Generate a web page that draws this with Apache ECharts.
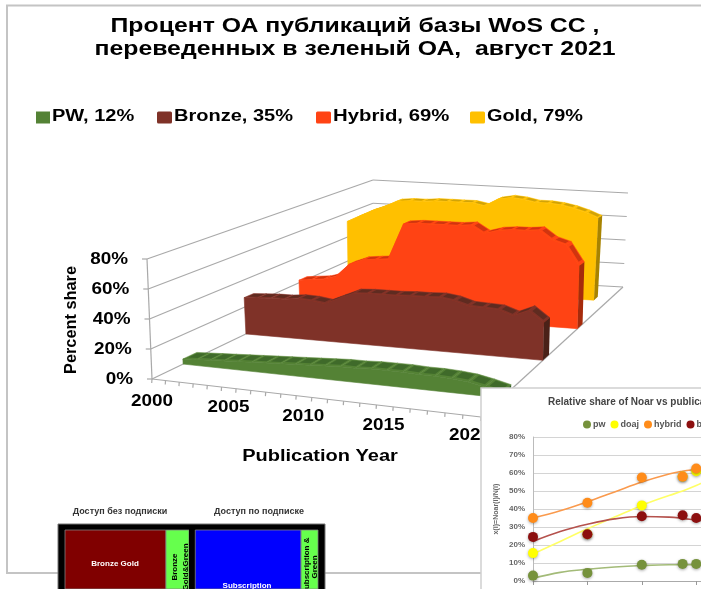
<!DOCTYPE html>
<html><head><meta charset="utf-8">
<style>html,body{margin:0;padding:0;background:#fff;overflow:hidden}#c{width:701px;height:589px}</style>
<script src="https://cdn.jsdelivr.net/npm/echarts@6/dist/echarts.min.js"></script></head>
<body><div id="c"></div>
<script>
// ---------- data: main 3D area chart ----------
const years=[2000,2001,2002,2003,2004,2005,2006,2007,2008,2009,2010,2011,2012,2013,2014,2015,2016,2017,2018,2019,2020,2021];
const pw    =[3.5,4,4.5,5,5.5,6,6.5,7,7.5,8,8.5,9,9,9.5,9.5,9.5,9,9,8.5,7.5,5.5,3];
const bronze=[27,27.5,28,28,29,28.5,27,31.5,36,36.5,36.5,36.5,37,37,37.5,36,33,32.5,32,28.5,33,25.5];
const hybrid=[22,23,24,27,37,41,42,43,71,72,72,72,72,73,67,70,71,71,72,65,62,47];
const gold  =[53,58,63,67,72,73,73,74,74,74,74,72,78,80,79,77,77,76,74,71,67];
const seriesNames=['PW, 12%','Bronze, 35%','Hybrid, 69%','Gold, 79%'];
const seriesColors=['#548235','#7f3228','#ff4314','#ffc000'];
const titleLines=['Процент ОА публикаций базы WoS CC ,','переведенных в зеленый ОА,  август 2021'];
const percentTicks=[0,20,40,60,80];
const percentLabels=['0%','20%','40%','60%','80%'];
const yearTicks=[2000,2005,2010,2015,2020];
// ---------- data: inset line chart ----------
const insetX=[0,4,8,11,12];
const insetPw=[3,4.5,9,9.5,9.5];
const insetDoaj=[15.5,26,42,58,61];
const insetHybrid=[35,43.5,57.5,58,62.5];
const insetBronze=[24.5,26,36,36.5,35];
const trendX=[0,2,4,6,8,10,11,12,13];
const trendPw=[1.5,4.8,6.5,7.8,8.6,9,9,9,9];
const trendDoaj=[15,22,29,35.5,42,47.5,50,53,56.5];
const trendHybrid=[35,39,44,49.5,55,59.5,61,62,63];
const trendBronze=[22,27.5,31.5,34.5,35.8,35.5,34.8,33.8,33];
// ---------- data: mosaic ----------
const mosaicShares=[39.9,9.1,2.5,41.8,6.7];
const mosaicColors=['#800000','#66ff4d','#000000','#0000ff','#66ff4d'];

// ---------- projection ----------
const G={left:100,top:100,width:210,height:80};
function quad(c){const [p0,p1,p2,p3]=c;
  const dx1=p1[0]-p2[0],dx2=p3[0]-p2[0],sx=p0[0]-p1[0]+p2[0]-p3[0];
  const dy1=p1[1]-p2[1],dy2=p3[1]-p2[1],sy=p0[1]-p1[1]+p2[1]-p3[1];
  const det=dx1*dy2-dx2*dy1,g=(sx*dy2-dx2*sy)/det,h=(dx1*sy-sx*dy1)/det;
  const a=p1[0]-p0[0]+g*p1[0],b=p3[0]-p0[0]+h*p3[0],d=p1[1]-p0[1]+g*p1[1],e=p3[1]-p0[1]+h*p3[1];
  return (u,v)=>{const w=g*u+h*v+1;return [(a*u+b*v+p0[0])/w,(d*u+e*v+p0[1])/w];};
}
const floorQ=quad([[152,379],[481,417],[623,287],[373,273]]);
const topQ=quad([[147,259],[488,277],[628,193],[373,180]]);
function proj(api,year,val,depth){
  const p=api.coord([year,val]);
  const u=(p[0]-G.left)/G.width,h=(G.top+G.height-p[1])/G.height;
  const a=floorQ(u,depth),b=topQ(u,depth);
  return [a[0]+(b[0]-a[0])*h,a[1]+(b[1]-a[1])*h];
}
const poly=(points,fill,extra)=>({type:'polygon',shape:{points},style:Object.assign({fill},extra||{})});
function ribbon(values,d0,thick,main,dash,side){
  const d1=d0+thick;
  return function(params,api){
    if(params.dataIndex!==0) return null;
    const ch=[],n=values.length,pts=[proj(api,years[0],0,d0)];
    for(let i=0;i<n;i++) pts.push(proj(api,years[i],values[i],d0));
    pts.push(proj(api,years[n-1],0,d0));
    for(let i=0;i<n-1;i++){
      const y0=years[i],y1=years[i+1],v0=values[i],v1=values[i+1];
      ch.push(poly([proj(api,y0,v0,d0),proj(api,y1,v1,d0),proj(api,y1,v1,d1),proj(api,y0,v0,d1)],main,{stroke:main,lineWidth:.5}));
      const m=t=>v0+(v1-v0)*t,a=.14,b=.86,q=thick*.25;
      ch.push(poly([proj(api,y0+a,m(a),d0+q),proj(api,y0+b,m(b),d0+q),proj(api,y0+b,m(b),d1-q*.4),proj(api,y0+a,m(a),d1-q*.4)],dash));
    }
    ch.push(poly(pts,main,{stroke:main,lineWidth:.6}));
    ch.push(poly([proj(api,years[n-1],values[n-1],d0),proj(api,years[n-1],values[n-1],d1),proj(api,years[n-1],0,d1),proj(api,years[n-1],0,d0)],side));
    return {type:'group',children:ch};
  };
}
const AX='#a9a9a9',FAM='"Liberation Sans",Arial,sans-serif',BF='bold 16px '+FAM;
const seg=(a,b,c)=>({type:'line',shape:{x1:a[0],y1:a[1],x2:b[0],y2:b[1]},style:{stroke:c||AX,lineWidth:1.2}});
const txt=(s,x,y,align,extra)=>Object.assign({type:'text',x,y,scaleX:1.18,style:{text:s,align,verticalAlign:'middle',font:BF,fill:'#000'}},extra||{});
function axes3d(params,api){
  if(params.dataIndex!==0) return null;
  const ch=[],Y0=years[0],Y1=years[years.length-1];
  percentTicks.forEach((v,i)=>{
    const a=proj(api,Y0,v,0),b=proj(api,Y0,v,1),c=proj(api,Y1,v,1);
    ch.push(seg(a,b),seg(b,c),seg([a[0]-5,a[1]],a));
    ch.push(txt(percentLabels[i],a[0]-19,a[1]+1,'right'));
  });
  ch.push(seg(proj(api,Y0,0,0),proj(api,Y0,80,0)));
  ch.push(seg(proj(api,Y0,0,0),proj(api,Y1,0,0)),seg(proj(api,Y1,0,0),proj(api,Y1,0,1)));
  years.forEach(y=>{const a=proj(api,y,0,0);ch.push(seg(a,[a[0]-.3,a[1]+4]));});
  yearTicks.forEach(y=>{const a=proj(api,y,0,0);ch.push(txt(String(y),a[0]+(y>Y0?7:0),a[1]+(y>Y0?21:23),'center'));});
  ch.push(txt('Percent share',72,320,'center',{rotation:Math.PI/2,scaleX:1.02}));
  ch.push(txt('Publication Year',320,457,'center',{scaleX:1.25}));
  return {type:'group',children:ch};
}
function mosaic(params,api){
  if(params.dataIndex!==0) return null;
  const ch=[];let acc=0;
  mosaicShares.forEach((s,i)=>{
    const a=api.coord([acc,0]),b=api.coord([acc+s,100]);
    ch.push({type:'rect',shape:{x:a[0],y:b[1],width:b[0]-a[0],height:a[1]-b[1]},style:{fill:mosaicColors[i],stroke:i===2?null:'#808080',lineWidth:.8}});
    acc+=s;
  });
  const F='bold 8px '+FAM;
  const lab=(t,x,y,fill,rot)=>({type:'text',x,y,rotation:rot?Math.PI/2:0,style:{text:t,align:'center',verticalAlign:'middle',font:F,fill}});
  ch.push(lab('Bronze Gold',115,564,'#fff'),lab('Subscription',247,586,'#fff'));
  ch.push(lab('Bronze',175,567,'#000',1),lab('Gold&Green',186,567,'#000',1),lab('Subscription &',307,566,'#000',1),lab('Green',315,567,'#000',1));
  return {type:'group',children:ch};
}
const pair=(xs,ys)=>ys.map((y,i)=>[xs[i],y]);
const dots=(name,ys,color)=>({name,type:'scatter',xAxisIndex:1,yAxisIndex:1,z:12,data:pair(insetX,ys),symbolSize:10,itemStyle:{color,opacity:1,shadowBlur:3,shadowColor:'rgba(0,0,0,.35)',shadowOffsetY:1},silent:true});
const trend=(ys,color)=>({type:'line',xAxisIndex:1,yAxisIndex:1,z:11,data:pair(trendX,ys),smooth:.4,showSymbol:false,lineStyle:{color,width:1.6},silent:true});
const custom=(name,fn,z,data,ax,color)=>({name,type:'custom',xAxisIndex:ax,yAxisIndex:ax,z,clip:false,silent:true,renderItem:fn,data,encode:{x:0,y:1},itemStyle:color?{color}:undefined});
const yearRows=ys=>pair(years,ys);
const gText=(text,x,y,font,scaleX,extra)=>Object.assign({type:'text',z:3,x,y,scaleX,style:{text,font,fill:'#000',align:'left',verticalAlign:'middle'}},extra||{});
const legendX=[[36,52,1.25],[157,174,1.25],[316,333,1.27],[470,487,1.24]];
const legendGraphics=[];
seriesNames.forEach((n,i)=>{
  const L=legendX[i];
  legendGraphics.push({type:'rect',z:3,shape:{x:L[0],y:111.5,width:L[1]-L[0]-2,height:12,r:i?1.5:0},style:{fill:seriesColors[i]}});
  legendGraphics.push(gText(n,L[1],117,BF,L[2]));
});
const T1='bold 20px '+FAM;

const option={
  animation:false,backgroundColor:'#fff',
  title:[
    {text:'Relative share of Noar vs publication year',left:543,top:392,z:10,textStyle:{fontFamily:FAM,fontWeight:'bold',fontSize:10,color:'#444'}},
    {text:'Доступ без подписки',left:115,top:502,textAlign:'center',z:7,textStyle:{fontFamily:FAM,fontWeight:'bold',fontSize:9,color:'#333'}},
    {text:'Доступ по подписке',left:254,top:502,textAlign:'center',z:7,textStyle:{fontFamily:FAM,fontWeight:'bold',fontSize:9,color:'#333'}}
  ],
  legend:[
    {data:['pw','doaj','hybrid','bronze'],left:578,top:415,width:300,z:12,icon:'circle',itemWidth:8,itemHeight:8,itemGap:5,textStyle:{fontFamily:FAM,fontWeight:'bold',fontSize:9,color:'#555',padding:[0,0,0,-3]},selectedMode:false}
  ],
  grid:[
    Object.assign({show:false},G),
    {show:false,left:533,top:437,width:168,height:144},
    {show:false,left:65,top:530,width:253,height:59}
  ],
  xAxis:[
    {gridIndex:0,type:'value',min:2000,max:2021,show:false},
    {gridIndex:1,type:'value',min:0,max:12.35,interval:4,z:10,axisLabel:{show:false},axisTick:{show:true,length:4,lineStyle:{color:'#999'}},axisLine:{onZero:false,lineStyle:{color:'#aaa'}},splitLine:{show:false}},
    {gridIndex:2,type:'value',min:0,max:100,show:false}
  ],
  yAxis:[
    {gridIndex:0,type:'value',min:0,max:80,show:false},
    {gridIndex:1,type:'value',min:0,max:80,interval:10,z:10,name:'x(i)=Noar(i)/N(i)',nameLocation:'middle',nameGap:33,nameTextStyle:{fontFamily:FAM,fontWeight:'bold',fontSize:7,color:'#666'},axisLabel:{formatter:'{value}%',margin:8,fontFamily:FAM,fontWeight:'bold',fontSize:8,color:'#666'},axisTick:{show:false},axisLine:{show:true,lineStyle:{color:'#bbb'}},splitLine:{show:true,lineStyle:{color:'#d4d4d4'}}},
    {gridIndex:2,type:'value',min:0,max:100,show:false}
  ],
  graphic:[
    {type:'polyline',z:0,shape:{points:[[701,5.5],[7,5.5],[7,573],[481,573]]},style:{fill:null,stroke:'#c4c4c4',lineWidth:2}},
    {type:'rect',z:4,shape:{x:58,y:524,width:267,height:80},style:{fill:'#000',stroke:'#777',lineWidth:1}},
    {type:'rect',z:5,shape:{x:481,y:388,width:260,height:240},style:{fill:'#fff',stroke:'#cfcfcf',lineWidth:1.5}},
    gText(titleLines[0],355,26,T1,1.24,{style:{text:titleLines[0],font:T1,fill:'#000',align:'center',verticalAlign:'middle'}}),
    gText(titleLines[1],355,49.5,T1,1.24,{style:{text:titleLines[1],font:T1,fill:'#000',align:'center',verticalAlign:'middle'}})
  ].concat(legendGraphics),
  series:[
    custom('axes',axes3d,1,[[2000,0]],0),
    custom(seriesNames[3],ribbon(gold,.85,.035,'#ffc000','#d1a308','#a88300'),2,yearRows(gold),0,'#ffc000'),
    custom(seriesNames[2],ribbon(hybrid,.592,.04,'#ff4314','#d0350f','#a62b0c'),2,yearRows(hybrid),0,'#ff4314'),
    custom(seriesNames[1],ribbon(bronze,.346,.04,'#7f3228','#5f2b20','#4a2118'),2,yearRows(bronze),0,'#7f3228'),
    custom(seriesNames[0],ribbon(pw,.105,.05,'#548235','#3f6a2a','#2f5a1e'),2,yearRows(pw),0,'#548235'),
    custom('mosaic',mosaic,6,[[0,0]],2),
    trend(trendPw,'#a3bb78'),trend(trendDoaj,'#ffff66'),trend(trendHybrid,'#fa9a4d'),trend(trendBronze,'#b5524d'),
    dots('pw',insetPw,'#76923c'),dots('doaj',insetDoaj,'#ffff00'),dots('hybrid',insetHybrid,'#ff8c1a'),dots('bronze',insetBronze,'#8c0f0f')
  ]
};
const chart=echarts.init(document.getElementById('c'),null,{renderer:'canvas'});
chart.setOption(option);
</script></body></html>
